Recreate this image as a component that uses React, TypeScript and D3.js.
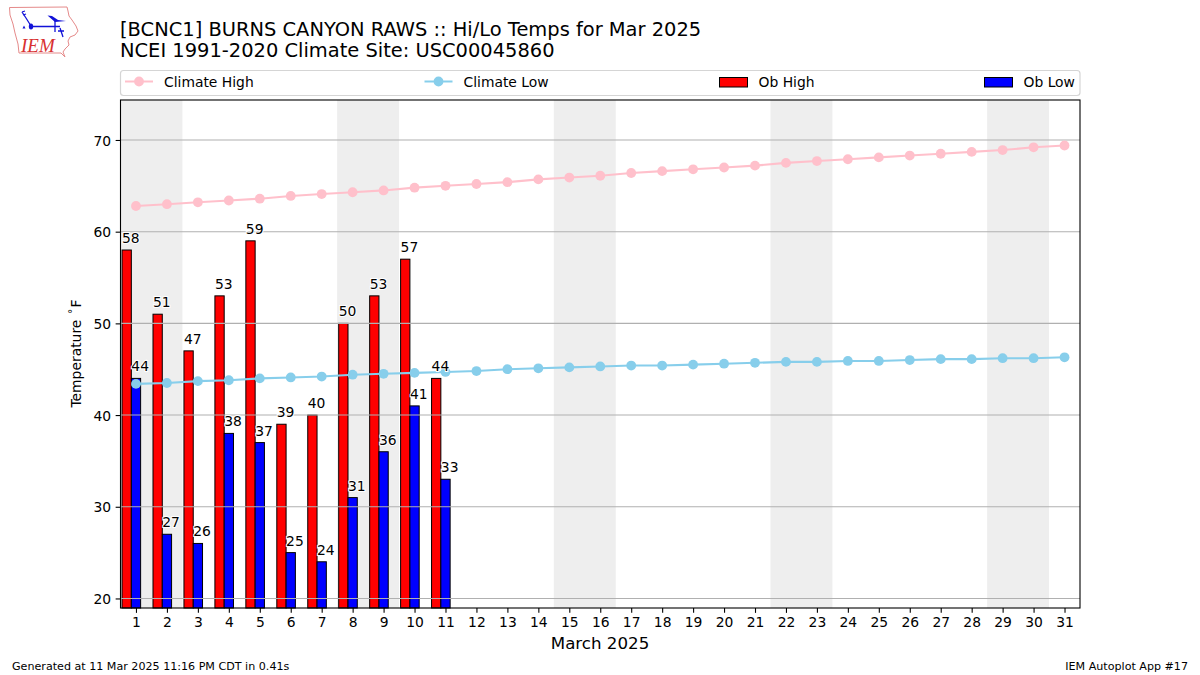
import { useEffect, useRef } from 'react';
import * as d3 from 'd3';

const days = d3.range(1, 32);
const climateHigh = [62.8, 63.0, 63.2, 63.4, 63.6, 63.9, 64.1, 64.3, 64.5, 64.8, 65.0, 65.2, 65.4, 65.7, 65.9, 66.1, 66.4, 66.6, 66.8, 67.0, 67.2, 67.5, 67.7, 67.9, 68.1, 68.3, 68.5, 68.7, 68.9, 69.2, 69.4];
const climateLow = [43.4, 43.5, 43.7, 43.8, 44.0, 44.1, 44.2, 44.4, 44.5, 44.6, 44.7, 44.8, 45.0, 45.1, 45.2, 45.3, 45.4, 45.4, 45.5, 45.6, 45.7, 45.8, 45.8, 45.9, 45.9, 46.0, 46.1, 46.1, 46.2, 46.2, 46.3];
const obHigh = [58, 51, 47, 53, 59, 39, 40, 50, 53, 57, 44];
const obLow = [44, 27, 26, 38, 37, 25, 24, 31, 36, 41, 33];
const weekends = [[0.5, 2.5], [7.5, 9.5], [14.5, 16.5], [21.5, 23.5], [28.5, 30.5]];
const yTicks = [20, 30, 40, 50, 60, 70];

const FONT = '"DejaVu Sans", sans-serif';
const WIDTH = 1200;
const HEIGHT = 675;
const plot = { left: 120.5, right: 1080, top: 100, bottom: 608 };
const BAR = 0.3;

export default function App() {
  const svgRef = useRef<SVGSVGElement>(null);

  useEffect(() => {
    if (!svgRef.current) return;
    const svg = d3.select(svgRef.current);
    svg.selectAll('*').remove();
    svg.attr('font-family', FONT);

    const x = d3.scaleLinear().domain([0.5, 31.5]).range([plot.left, plot.right]);
    const y = d3.scaleLinear().domain([18.96, 74.36]).range([plot.bottom, plot.top]);

    drawLogo(svg);

    // Titles
    svg.append('text').attr('x', 120).attr('y', 35.5).attr('font-size', 19.44).attr('fill', '#000')
      .text('[BCNC1] BURNS CANYON RAWS :: Hi/Lo Temps for Mar 2025');
    svg.append('text').attr('x', 120).attr('y', 57).attr('font-size', 19.44).attr('fill', '#000')
      .text('NCEI 1991-2020 Climate Site: USC00045860');

    // ── Legend ──
    const legend = svg.append('g');
    legend.append('rect')
      .attr('x', 120.5).attr('y', 70.5).attr('width', 959.5).attr('height', 25).attr('rx', 3)
      .attr('fill', '#fff').attr('stroke', '#d5d5d5').attr('stroke-width', 1.2);
    const legendLine = (x0: number, color: string, label: string) => {
      legend.append('line').attr('x1', x0).attr('x2', x0 + 28).attr('y1', 81.5).attr('y2', 81.5)
        .attr('stroke', color).attr('stroke-width', 2);
      legend.append('circle').attr('cx', x0 + 14).attr('cy', 81.5).attr('r', 4.9).attr('fill', color);
      legend.append('text').attr('x', x0 + 39).attr('y', 86.5).attr('font-size', 13.89).text(label);
    };
    const legendPatch = (x0: number, color: string, label: string) => {
      legend.append('rect').attr('x', x0).attr('y', 77.5).attr('width', 28).attr('height', 9.5)
        .attr('fill', color).attr('stroke', '#000').attr('stroke-width', 1);
      legend.append('text').attr('x', x0 + 39).attr('y', 86.5).attr('font-size', 13.89).text(label);
    };
    legendLine(125, 'pink', 'Climate High');
    legendLine(424.5, 'skyblue', 'Climate Low');
    legendPatch(719.5, 'red', 'Ob High');
    legendPatch(984.5, 'blue', 'Ob Low');

    // Weekend shading
    svg.append('g').selectAll('rect').data(weekends).join('rect')
      .attr('x', d => x(d[0]))
      .attr('y', plot.top)
      .attr('width', d => x(d[1]) - x(d[0]))
      .attr('height', plot.bottom - plot.top)
      .attr('fill', '#eeeeee');

    // Bars
    const drawBars = (values: number[], offset: number, color: string) => {
      svg.append('g').selectAll('rect').data(values).join('rect')
        .attr('x', (_, i) => x(days[i] + offset))
        .attr('y', d => y(d))
        .attr('width', x(1 + BAR) - x(1))
        .attr('height', d => plot.bottom - y(d))
        .attr('fill', color)
        .attr('stroke', '#000')
        .attr('stroke-width', 1);
    };
    drawBars(obHigh, -0.45, 'red');
    drawBars(obLow, -0.15, 'blue');

    // Grid goes over the bars in the original
    svg.append('g').selectAll('line').data(yTicks).join('line')
      .attr('x1', plot.left).attr('x2', plot.right)
      .attr('y1', d => y(d)).attr('y2', d => y(d))
      .attr('stroke', '#b0b0b0').attr('stroke-width', 1.1);

    // Climate lines
    const drawClimate = (values: number[], color: string) => {
      const line = d3.line<number>().x((_, i) => x(days[i])).y(d => y(d));
      svg.append('path').attr('d', line(values)).attr('fill', 'none')
        .attr('stroke', color).attr('stroke-width', 2.08);
      svg.append('g').selectAll('circle').data(values).join('circle')
        .attr('cx', (_, i) => x(days[i])).attr('cy', d => y(d)).attr('r', 4.9).attr('fill', color);
    };
    drawClimate(climateHigh, 'pink');
    drawClimate(climateLow, 'skyblue');

    // Value labels, left edge on the bar with a white halo
    const drawLabels = (values: number[], offset: number) => {
      svg.append('g').selectAll('text').data(values).join('text')
        .attr('x', (_, i) => x(days[i] + offset))
        .attr('y', d => y(d) - 7)
        .attr('font-size', 13.89)
        .attr('fill', '#000')
        .attr('stroke', '#fff')
        .attr('stroke-width', 2)
        .attr('paint-order', 'stroke')
        .text(d => d);
    };
    drawLabels(obHigh, -0.45);
    drawLabels(obLow, -0.15);

    // Axes
    const xAxis = svg.append('g').attr('transform', `translate(0,${plot.bottom})`)
      .call(d3.axisBottom(x).tickValues(days).tickFormat(d3.format('d')).tickSize(4.86).tickPadding(4.5));
    const yAxis = svg.append('g').attr('transform', `translate(${plot.left},0)`)
      .call(d3.axisLeft(y).tickValues(yTicks).tickSize(4.86).tickPadding(4.5));
    [xAxis, yAxis].forEach(a => {
      a.select('.domain').remove();
      a.selectAll('text').attr('font-size', 13.89).attr('font-family', FONT).attr('fill', '#000');
      a.selectAll('line').attr('stroke', '#000').attr('stroke-width', 1.1);
    });
    yAxis.selectAll('text').attr('dy', '0.37em');

    // Frame
    svg.append('rect')
      .attr('x', plot.left).attr('y', plot.top)
      .attr('width', plot.right - plot.left).attr('height', plot.bottom - plot.top)
      .attr('fill', 'none').attr('stroke', '#000').attr('stroke-width', 1.1);

    // Axis titles
    svg.append('text').attr('x', 600).attr('y', 649).attr('text-anchor', 'middle')
      .attr('font-size', 16.67).text('March 2025');
    const yLabel = svg.append('text')
      .attr('transform', 'translate(81,353.5) rotate(-90)')
      .attr('text-anchor', 'middle').attr('font-size', 13.89);
    yLabel.append('tspan').text('Temperature ');
    yLabel.append('tspan').attr('font-size', 9.7).attr('dy', -5).attr('dx', 1.5).text('\u00b0');
    yLabel.append('tspan').attr('dy', 5).attr('dx', 1.5).text('F');

    // Footer
    svg.append('text').attr('x', 12).attr('y', 670).attr('font-size', 11.11)
      .text('Generated at 11 Mar 2025 11:16 PM CDT in 0.41s');
    svg.append('text').attr('x', 1188).attr('y', 670).attr('text-anchor', 'end').attr('font-size', 11.11)
      .text('IEM Autoplot App #17');
  }, []);

  return (
    <svg
      ref={svgRef}
      width={WIDTH}
      height={HEIGHT}
      style={{ position: 'absolute', left: 0, top: 0, background: '#fff' }}
    />
  );
}

// Small IEM logo: state outline, station model glyph, red lettering
function drawLogo(svg: d3.Selection<SVGSVGElement, unknown, null, undefined>) {
  const g = svg.append('g');
  g.append('path')
    .attr('d', 'M9.5 7.5 L67 7 L68 11 L69 16 L72 20 L76 26 L78 31 L75 35 L70 37 L68 41 L69 45 L65 49 L63 52 L65 57 L61 53 L19 53 L18 44 L15 33 L13 24 L10 15 Z')
    .attr('fill', 'none').attr('stroke', '#e58a8a').attr('stroke-width', 1);
  const blue = '#1212d8';
  g.append('path').attr('d', 'M31 26.5 L60 26.5 M55 19 L55 32 M60 28 L63 37 M58 31 L64 31 M22 12 L26 18 L31 26 M22 12 L25 11 M23 15 L26 14')
    .attr('fill', 'none').attr('stroke', blue).attr('stroke-width', 1.3);
  g.append('ellipse').attr('cx', 31).attr('cy', 26.5).attr('rx', 2.2).attr('ry', 3).attr('fill', blue);
  g.append('path').attr('d', 'M47.5 15.5 L52 16 L58 20 L66 21 L55 22 Z').attr('fill', blue);
  g.append('path').attr('d', 'M24 25.5 L25.5 28.5 L22.5 28.5 Z').attr('fill', blue);
  g.append('text').attr('x', 21).attr('y', 51.5).attr('font-family', '"Liberation Serif", serif')
    .attr('font-style', 'italic').attr('font-size', 19).attr('fill', '#d83030').text('IEM');
}
